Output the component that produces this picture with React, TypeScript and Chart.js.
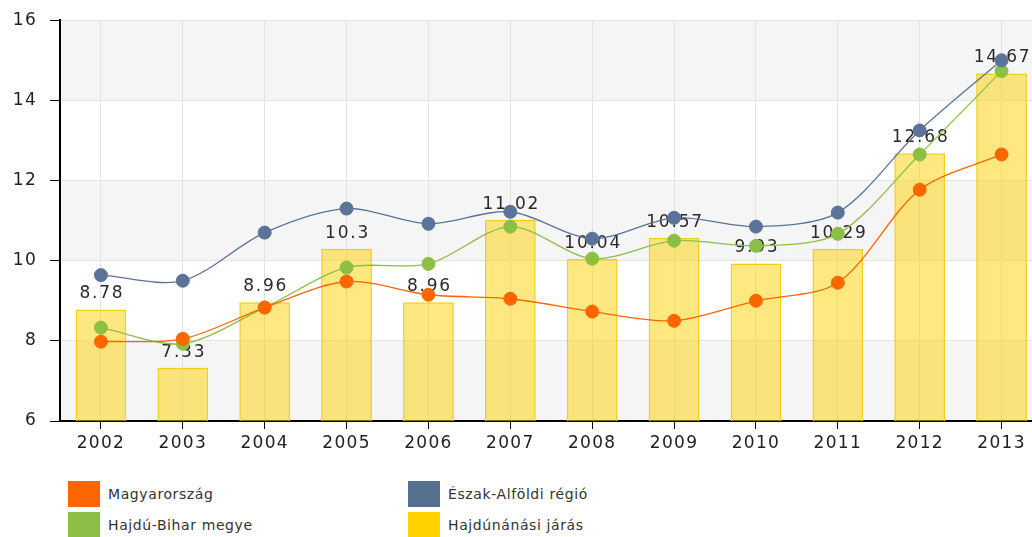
import React, { useEffect, useRef } from "react";
import { Chart, registerables } from "chart.js";

Chart.register(...registerables);

const years = ["2002", "2003", "2004", "2005", "2006", "2007", "2008", "2009", "2010", "2011", "2012", "2013"];
const magyarorszag = [7.98, 8.05, 8.83, 9.48, 9.15, 9.05, 8.73, 8.5, 9.0, 9.45, 11.77, 12.65];
const eszakAlfoldi = [9.64, 9.5, 10.7, 11.3, 10.92, 11.22, 10.55, 11.07, 10.85, 11.2, 13.25, 15.0];
const hajduBihar = [8.33, 7.93, 8.83, 9.83, 9.92, 10.85, 10.05, 10.5, 10.37, 10.67, 12.65, 14.73];
const hajdunanasi = [8.78, 7.33, 8.96, 10.3, 8.96, 11.02, 10.04, 10.57, 9.93, 10.29, 12.68, 14.67];
const yTicks = [6, 8, 10, 12, 14, 16];
const bandRanges: [number, number][] = [[6, 8], [10, 12], [14, 16]];

const ORANGE = "#FF6600";
const BLUE = "#5A7399";
const GREEN = "#8CBF45";
const YELLOW = "#FFD200";

const legendItems = [
  { label: "Magyarország", color: ORANGE, left: 68, top: 481 },
  { label: "Észak-Alföldi régió", color: "#56708F", left: 408, top: 481 },
  { label: "Hajdú-Bihar megye", color: GREEN, left: 68, top: 512 },
  { label: "Hajdúnánási járás", color: YELLOW, left: 408, top: 512 },
];

const bandsPlugin = {
  id: "bands",
  beforeDraw(chart: any) {
    const { ctx, chartArea, scales } = chart;
    ctx.letterSpacing = "1.3px";
    ctx.save();
    ctx.fillStyle = "#F5F5F5";
    for (const [a, b] of bandRanges) {
      const y1 = scales.y.getPixelForValue(b);
      const y2 = scales.y.getPixelForValue(a);
      ctx.fillRect(chartArea.left, y1, chartArea.right - chartArea.left, y2 - y1);
    }
    ctx.restore();
  },
};

const barLabelPlugin = {
  id: "barLabels",
  afterDatasetDraw(chart: any, args: any) {
    if (args.index !== 0) return;
    const { ctx } = chart;
    const meta = chart.getDatasetMeta(0);
    ctx.save();
    ctx.font = "17px 'DejaVu Sans'";
    ctx.letterSpacing = "1.8px";
    ctx.fillStyle = "#2a2a2a";
    ctx.textAlign = "center";
    ctx.textBaseline = "bottom";
    meta.data.forEach((el: any, i: number) => {
      ctx.fillText(String(hajdunanasi[i]), el.x + 1, el.y - 7);
    });
    ctx.restore();
  },
};

export default function App() {
  const ref = useRef<HTMLCanvasElement | null>(null);
  useEffect(() => {
    document.body.style.margin = "0";
    const canvas = ref.current!;
    const lineDs = (label: string, data: number[], color: string, order: number) => ({
      type: "line" as const,
      label,
      data,
      borderColor: color,
      backgroundColor: color,
      pointBackgroundColor: color,
      pointBorderColor: color,
      pointRadius: 6.5,
      pointBorderWidth: 1,
      borderWidth: 1.3,
      tension: 0.3,
      order,
    });
    const chart = new Chart(canvas, {
      type: "bar",
      data: {
        labels: years,
        datasets: [
          {
            type: "bar",
            label: "Hajdúnánási járás",
            data: hajdunanasi,
            backgroundColor: "rgba(255, 210, 0, 0.5)",
            borderColor: "#F2CF1A",
            borderWidth: 1.5,
            barPercentage: 0.62,
            categoryPercentage: 1,
            order: 10,
          } as any,
          lineDs("Hajdú-Bihar megye", hajduBihar, GREEN, 3),
          lineDs("Magyarország", magyarorszag, ORANGE, 2),
          lineDs("Észak-Alföldi régió", eszakAlfoldi, BLUE, 1),
        ],
      },
      options: {
        responsive: false,
        animation: false,
        layout: { padding: { top: 14, right: 0, left: 0, bottom: 0 } },
        plugins: { legend: { display: false }, tooltip: { enabled: false } },
        scales: {
          x: {
            offset: true,
            grid: {
              offset: false,
              color: "#E2E2E2",
              tickColor: "#000",
              tickLength: 8,
              lineWidth: 1,
            },
            border: { color: "#000", width: 2 },
            ticks: { color: "#222", font: { family: "'DejaVu Sans'", size: 17 }, padding: 4 },
            afterFit: (s: any) => { s.height = 39; },
          },
          y: {
            min: 6,
            max: 16,
            afterBuildTicks: (s: any) => { s.ticks = yTicks.map((v) => ({ value: v })); },
            grid: { color: "#E4E4E4", tickColor: "#000", tickLength: 10 },
            border: { color: "#000", width: 2 },
            ticks: { color: "#222", font: { family: "'DejaVu Sans'", size: 17 }, padding: 13 },
            afterFit: (s: any) => { s.width = 60; },
          },
        },
      },
      plugins: [bandsPlugin, barLabelPlugin],
    });
    return () => chart.destroy();
  }, []);

  return (
    <div style={{ position: "absolute", left: 0, top: 0, width: 1032, height: 537, overflow: "hidden", background: "#fff" }}>
      <canvas ref={ref} width={1050} height={463} style={{ display: "block", position: "absolute", left: 0, top: -3 }} />
      {legendItems.map((it) => (
        <div key={it.label} style={{ position: "absolute", left: it.left, top: it.top, height: 26, display: "flex", alignItems: "center" }}>
          <div style={{ width: 32, height: 26, background: it.color }} />
          <span style={{ marginLeft: 8, fontFamily: "'DejaVu Sans'", fontSize: 14, letterSpacing: "0.6px", color: "#333" }}>{it.label}</span>
        </div>
      ))}
    </div>
  );
}
